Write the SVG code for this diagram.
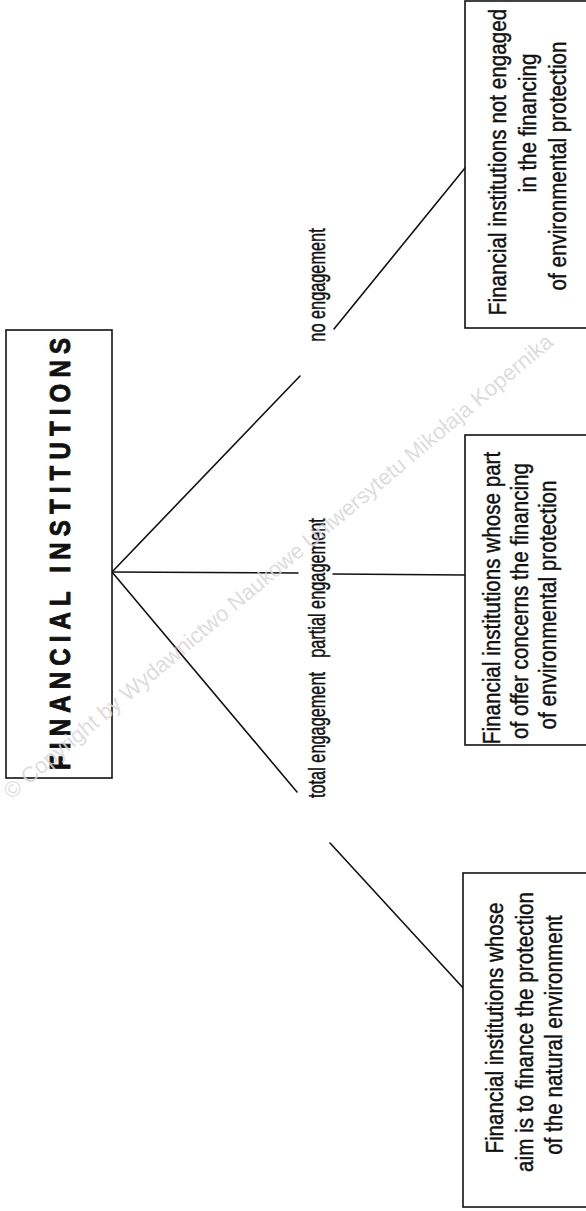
<svg xmlns="http://www.w3.org/2000/svg" width="586" height="1211" viewBox="0 0 586 1211">
  <style>
    .box { fill: #ffffff; stroke: #111111; stroke-width: 1.6; }
    .link { fill: none; stroke: #111111; stroke-width: 1.6; stroke-linecap: round; }
    .t { font-family: "Liberation Sans", Arial, sans-serif; font-size: 24px; fill: #111111; stroke: #111111; stroke-width: 0.45; text-anchor: middle; }
    .title { font-family: "Liberation Sans", Arial, sans-serif; font-weight: bold; font-size: 30px; fill: #111111; stroke: #111111; stroke-width: 0.9; text-anchor: middle; }
    .mark { font-family: "Liberation Sans", Arial, sans-serif; font-size: 22px; fill: #d6d6d6; fill-opacity: 0.85; text-anchor: middle; }
  </style>
  <rect width="586" height="1211" fill="#ffffff"/>

  <!-- branches from the root box -->
  <g id="connectors">
    <line class="link" x1="112" y1="572" x2="300" y2="376"/>
    <line class="link" x1="334" y1="329" x2="465" y2="168"/>
    <line class="link" x1="112" y1="572" x2="298" y2="573"/>
    <line class="link" x1="333" y1="574" x2="465" y2="575"/>
    <line class="link" x1="112" y1="572" x2="297" y2="792"/>
    <line class="link" x1="330" y1="843" x2="465" y2="990"/>
  </g>

  <g id="root">
    <rect class="box" x="6" y="330" width="106" height="448"/>
    <!-- condensed bold title: glyphs narrowed, spacing stretched -->
    <text class="title" transform="translate(70,554) rotate(-90) scale(0.8,1)" textLength="540" lengthAdjust="spacing">FINANCIAL INSTITUTIONS</text>
  </g>

  <g id="label-no">
    <text class="t" transform="translate(325,285) rotate(-90) scale(0.68,1)">no engagement</text>
  </g>
  <g id="label-partial">
    <text class="t" transform="translate(325,588) rotate(-90) scale(0.68,1)">partial engagement</text>
  </g>
  <g id="label-total">
    <text class="t" transform="translate(325,735) rotate(-90) scale(0.68,1)">total engagement</text>
  </g>

  <g id="node-none">
    <rect class="box" x="465" y="1" width="125" height="327"/>
    <text class="t" transform="translate(506,162) rotate(-90) scale(0.86,1)">Financial institutions not engaged</text>
    <text class="t" transform="translate(536,123) rotate(-90) scale(0.86,1)">in the financing</text>
    <text class="t" transform="translate(566,166) rotate(-90) scale(0.86,1)">of environmental protection</text>
  </g>

  <g id="node-partial">
    <rect class="box" x="465" y="435" width="125" height="310"/>
    <text class="t" transform="translate(500,598) rotate(-90) scale(0.86,1)">Financial institutions whose part</text>
    <text class="t" transform="translate(528,601) rotate(-90) scale(0.86,1)">of offer concerns the financing</text>
    <text class="t" transform="translate(556,605) rotate(-90) scale(0.86,1)">of environmental protection</text>
  </g>

  <g id="node-total">
    <rect class="box" x="463" y="873" width="127" height="334"/>
    <text class="t" transform="translate(503,1028) rotate(-90) scale(0.86,1)">Financial institutions whose</text>
    <text class="t" transform="translate(533,1032) rotate(-90) scale(0.86,1)">aim is to finance the protection</text>
    <text class="t" transform="translate(562,1035) rotate(-90) scale(0.86,1)">of the natural environment</text>
  </g>

  <!-- light diagonal copyright line laid over the sheet -->
  <text class="mark" transform="translate(283,572) rotate(-40)">© Copyright by Wydawnictwo Naukowe Uniwersytetu Mikołaja Kopernika</text>
</svg>
